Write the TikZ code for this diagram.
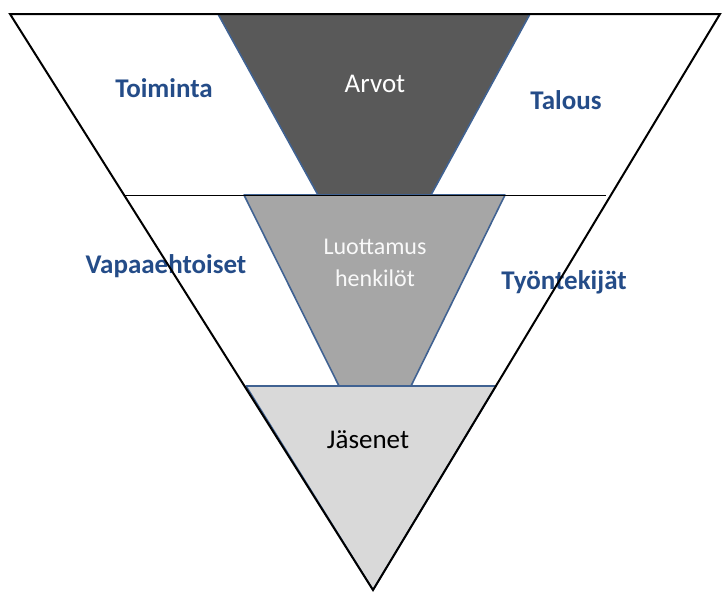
\documentclass[tikz,border=0pt]{standalone}
\usepackage{fontspec}
\setmainfont{Carlito}
\usepackage{tikz}
\usetikzlibrary{positioning, calc}
\definecolor{valuesgray}{RGB}{89, 89, 89}
\definecolor{trustgray}{RGB}{166, 166, 166}
\definecolor{membergray}{RGB}{217, 217, 217}
\definecolor{edgeblue}{RGB}{64, 98, 146}
\definecolor{labelblue}{RGB}{36, 76, 136}

\tikzset{
    layer/.style={draw=edgeblue, line width=1.6pt, line join=round},
    sidelabel/.style={text=labelblue, font=\fontsize{27}{30}\selectfont\bfseries},
    innerlabel/.style={align=center, font=\fontsize{27}{30}\selectfont}
}

\begin{document}
\begin{tikzpicture}[x=1pt, y=-1pt]
    \useasboundingbox (0,0) rectangle (725,592);
    % outer funnel corners
    \coordinate (tl) at (10,14);
    \coordinate (tr) at (720,14);
    \coordinate (apex) at (373,590);
    \coordinate (ml) at (124,195);
    \coordinate (mr) at (606,195);

    % layers
    \fill[valuesgray] (218,14) -- (530,14) -- (431,195) -- (318,195) -- cycle;
    \draw[layer] (530,14) -- (431,195) -- (318,195) -- (218,14);
    \draw[layer, fill=trustgray] (244,195) -- (505,195) -- (411,386) -- (339,386) -- cycle;
    \draw[layer, fill=membergray] (246,386) -- (496,386) -- (apex) -- cycle;

    % texts
    \node[sidelabel] (toiminta) at (164,88) {Toiminta};
    \node[sidelabel] (talous) at (566,100) {Talous};
    \node[sidelabel] (vapaa) at (166,266) {Vapaaehtoiset};
    \node[sidelabel] (tyon) at (564,282) {Työntekijät};
    \node[innerlabel, text=white] (arvot) at (375,84) {Arvot};
    \node[innerlabel, text=white!95!gray, font=\fontsize{24}{32}\selectfont] (luottamus) at (375,263) {Luottamus\\henkilöt};
    \node[innerlabel, text=black] (jasenet) at (368,440) {Jäsenet};

    % outline
    \draw[line width=0.8pt] (ml) -- (mr);
    \draw[line width=2pt, line join=miter] (tl) -- (tr) -- (apex) -- cycle;
\end{tikzpicture}
\end{document}
